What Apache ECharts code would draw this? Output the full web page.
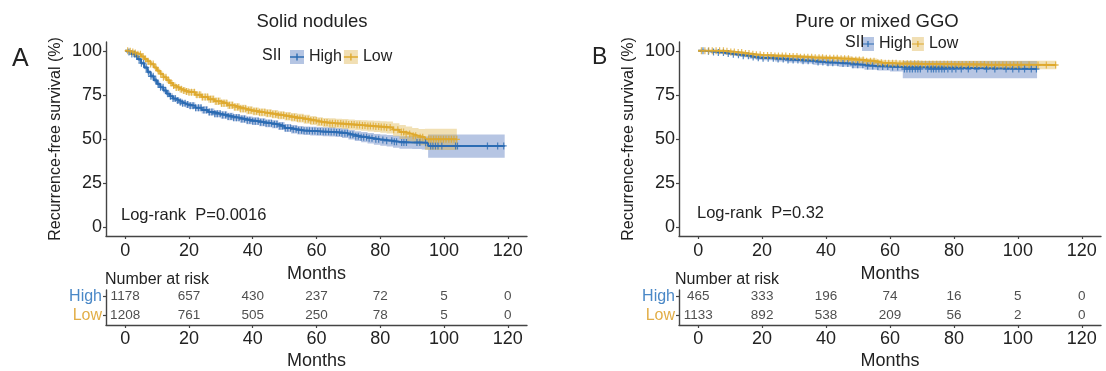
<!DOCTYPE html>
<html><head><meta charset="utf-8">
<script src="https://cdn.jsdelivr.net/npm/echarts@6/dist/echarts.min.js"></script>
<style>html,body{margin:0;padding:0;background:#fff}#c{width:1106px;height:371px}</style>
</head><body><div id="c"></div>
<script>
// ---------- DATA ----------
const xTicks = [0, 20, 40, 60, 80, 100, 120];
const yTicks = [0, 25, 50, 75, 100];
const groups = ['High', 'Low'];
const riskTimes = [0, 20, 40, 60, 80, 100, 120];

// Panel A: Solid nodules
const A_high_t = [0,1,2,3,4,5,6,7,8,9,10,11,12,13,14,15,16,17,18,19,20,22,24,26,28,30,32,34,36,38,40,42,44,46,48,50,52,54,56,58,60,62,64,66,68,70,72,74,76,78,80,82,84,86,90,93,95,119];
const A_high_s = [100,99.4,98.2,96.9,95.2,93,90.5,88,85.6,83.3,81.2,79.3,77.5,75.7,74.2,72.9,71.9,71,70.2,69.5,68.9,67.7,66.5,65.3,64.3,63.6,62.8,62.1,61.3,60.6,60.1,59.5,58.9,58.4,57.4,56.2,55.5,55,54.7,54.5,54.3,54.1,54,53.7,53.2,52.4,51.6,51,50.4,49.8,49.4,49,48.5,48,48,47.9,46.1,46.1];
const A_high_lo = [100,99.0,97.6,96.2,94.4,92.1,89.5,86.9,84.4,82.0,79.8,77.8,75.9,74.1,72.5,71.2,70.1,69.2,68.4,67.6,67.0,65.8,64.5,63.3,62.3,61.5,60.7,60.0,59.2,58.4,57.9,57.3,56.7,56.1,55.1,53.9,53.1,52.6,52.3,52.0,51.8,51.6,51.4,51.1,50.5,49.7,48.8,48.1,47.4,46.7,46.2,45.7,45.1,44.5,44.3,44.1,39.4,39.4];
const A_high_hi = [100,99.8,98.8,97.6,96.0,93.9,91.5,89.1,86.8,84.6,82.6,80.8,79.1,77.3,75.9,74.6,73.7,72.8,72.0,71.4,70.8,69.6,68.5,67.3,66.3,65.7,64.9,64.2,63.4,62.8,62.3,61.7,61.1,60.7,59.7,58.5,57.9,57.4,57.1,57.0,56.8,56.6,56.6,56.3,55.9,55.1,54.4,53.9,53.4,52.9,52.6,52.3,51.9,51.5,51.5,51.4,52.5,52.5];
const A_high_cens = [1.2,2.1,2.9,3.6,4.4,5.1,5.8,6.6,7.3,8.1,8.8,9.6,10.4,11.1,11.9,12.7,13.4,14.2,15,15.7,16.5,17.3,18,18.8,19.6,20.4,21.3,22.1,23,23.8,24.7,25.5,26.4,27.2,28.1,28.9,29.8,30.6,31.5,32.3,33.2,34,34.9,35.7,36.6,37.4,38.3,39.1,40,40.8,41.7,42.5,43.4,44.2,45.1,45.9,46.8,47.6,48.5,49.3,50.2,51,51.9,52.7,53.6,54.4,55.3,56.1,57,57.8,58.7,59.5,60.4,61.2,62.1,62.9,63.8,64.6,65.5,66.3,67.2,68,68.9,69.7,70.6,71.4,72.3,73.1,74,74.8,75.7,76.5,77.4,78.6,79.5,80.8,82,83.6,84.4,85.1,86.7,87.4,88.2,91.5,92.4,94.2,95.8,96.5,97.3,98.1,99.3,103.6,104.2,113.6,116.8,118.7];

const A_low_t = [0,1,2,3,4,5,6,7,8,9,10,11,12,13,14,15,16,17,18,19,20,22,24,26,28,30,32,34,36,38,40,42,44,46,48,50,52,54,56,58,60,62,64,66,68,70,72,74,76,78,80,82,84,86,88,90,92,94,104];
const A_low_s = [100,99.8,99.3,98.7,98.1,96.8,95.3,94.1,92.5,90.6,88.7,86.9,85,83.3,81.7,80.3,79.2,78.2,77.5,77,76.5,75.1,73.8,72.6,71.4,70.3,69.1,68.1,67.2,66.3,65.7,65.1,64.6,64.1,63.5,62.9,62.3,61.8,61.2,60.5,59.8,59.3,59,58.8,58.5,58.2,57.9,57.7,57.4,57.1,56.8,56.5,55.3,54,52.9,51.8,51,49.8,49.8];
const A_low_lo = [100,99.6,98.9,98.2,97.5,96.0,94.4,93.1,91.4,89.4,87.4,85.5,83.5,81.7,80.0,78.6,77.4,76.4,75.7,75.1,74.6,73.2,71.8,70.6,69.3,68.2,67.0,66.0,65.0,64.1,63.5,62.9,62.3,61.8,61.2,60.5,59.9,59.3,58.7,58.0,57.2,56.7,56.3,56.1,55.7,55.3,55.0,54.7,54.3,53.9,53.5,53.1,51.6,50.0,48.7,47.4,46.4,43.7,43.7];
const A_low_hi = [100,100,99.7,99.2,98.7,97.6,96.2,95.1,93.6,91.8,90.0,88.3,86.5,84.9,83.4,82.0,81.0,80.0,79.3,78.9,78.4,77.0,75.8,74.6,73.5,72.4,71.2,70.2,69.4,68.5,67.9,67.3,66.9,66.4,65.8,65.3,64.7,64.3,63.7,63.0,62.4,61.9,61.7,61.5,61.3,61.1,60.8,60.7,60.5,60.3,60.1,59.9,59.0,58.0,57.1,56.2,55.6,55.8,55.8];
const A_low_cens = [0.8,1.6,2.4,3.2,4,4.8,5.6,6.4,7.2,8,8.8,9.6,10.4,11.2,12,12.8,13.6,14.4,15.2,16,16.8,17.6,18.4,19.2,20,20.8,21.7,22.5,23.4,24.2,25.1,25.9,26.8,27.6,28.5,29.3,30.2,31,31.9,32.7,33.6,34.4,35.3,36.1,37,37.8,38.7,39.5,40.4,41.2,42.1,42.9,43.8,44.6,45.5,46.3,47.2,48,48.9,49.7,50.6,51.4,52.3,53.1,54,54.8,55.7,56.5,57.4,58.2,59.1,59.9,60.8,61.6,62.5,63.3,64.2,65,65.9,66.7,67.6,68.4,69.3,70.1,71,71.8,72.7,73.5,74.4,75.2,76.1,76.9,77.8,78.6,79.5,80.3,81.2,82,83.1,84.2,85.5,86.6,87.3,88.1,89.2,90.3,91.1,92.5,93.3,95.2,95.9,96.7,97.5,98.3,99,99.8,100.6,101.5,102.3,103.1,104];

// Panel B: Pure or mixed GGO
const B_high_t = [0,2,4,6,8,10,12,14,16,18,20,24,28,32,36,40,44,48,52,56,60,64,106];
const B_high_s = [100,99.8,99.4,99,98.5,98.1,97.7,97.2,96.5,96.1,95.8,95.3,94.8,94.3,93.7,93.2,92.8,92.1,91.4,91.1,90.8,89.7,89.7];
const B_high_lo = [100,99.5,99.0,98.5,97.9,97.4,96.9,96.3,95.5,95.0,94.6,94.0,93.4,92.8,92.1,91.5,91.0,90.1,89.2,88.8,88.3,84.5,84.5];
const B_high_hi = [100,100,99.8,99.5,99.1,98.8,98.5,98.1,97.5,97.2,97.0,96.6,96.2,95.8,95.3,94.9,94.6,94.1,93.6,93.4,93.3,94.2,94.2];
const B_high_cens = [1.5,3.2,4.8,6.3,7.9,9.4,11,12.6,14.1,15.7,17.2,18.8,20.3,21.9,23.5,25,26.6,28.1,29.7,31.2,32.8,34.4,35.9,37.5,39,40.6,42.1,43.7,45.3,46.8,48.4,49.9,51.5,53,54.6,56.2,57.7,59.3,60.8,62.4,64.5,65.3,66.2,67,67.9,68.7,69.5,71.8,72.9,73.6,74.4,75.3,76.2,77,78.1,79.4,80.6,82.3,84.5,87.1,90.2,92.8,96.3,98.4,100.3,102.1,104.2,105.8];

const B_low_t = [0,4,8,10,12,14,16,18,20,24,28,32,36,40,44,48,52,56,58,62,70,80,90,112];
const B_low_s = [100,100,99.8,99.4,99,98.5,98.1,97.7,97.4,97.1,96.8,96.4,96.1,95.8,95.5,94.8,94.1,93.3,92.9,92.6,92.4,92.2,92,92];
const B_low_lo = [100,99.8,99.5,99.0,98.5,97.9,97.4,97.0,96.6,96.2,95.8,95.3,94.9,94.5,94.1,93.3,92.5,91.6,91.1,90.7,90.4,90.0,89.6,88.2];
const B_low_hi = [100,100,100,99.8,99.5,99.1,98.8,98.4,98.2,98.0,97.8,97.5,97.3,97.1,96.9,96.3,95.7,95.0,94.7,94.5,94.4,94.4,94.4,94.2];
const B_low_cens = [1,2.1,3.3,4.4,5.6,6.7,7.9,9,10.2,11.3,12.5,13.6,14.8,15.9,17.1,18.2,19.4,20.5,21.7,22.8,24,25.1,26.3,27.4,28.6,29.7,30.9,32,33.2,34.3,35.5,36.6,37.8,38.9,40.1,41.2,42.4,43.5,44.7,45.8,47,48.1,49.3,50.4,51.6,52.7,53.9,55,56.2,57.3,58.5,59.6,60.8,61.9,63.1,64.2,65.4,66.5,67.7,68.8,70,71.1,72.3,73.4,74.6,75.7,76.9,78,79.2,80.3,81.5,82.6,83.8,84.9,86.1,87.2,88.4,89.5,90.7,91.8,93,94.1,95.3,96.4,97.6,98.7,99.9,101,103.5,106.3,108.9,111.8];

// Number at risk
const A_risk_high = [1178, 657, 430, 237, 72, 5, 0];
const A_risk_low  = [1208, 761, 505, 250, 78, 5, 0];
const B_risk_high = [465, 333, 196, 74, 16, 5, 0];
const B_risk_low  = [1133, 892, 538, 209, 56, 2, 0];

// ---------- STYLE ----------
const FONT = '"Liberation Sans", Arial, Helvetica, sans-serif';
const TXT = '#222';
const AX = '#444';
const lineCol = {High: '#2C6CB3', Low: '#DEA92E'};
const bandCol = {High: 'rgba(45,90,175,0.35)', Low: 'rgba(215,165,40,0.35)'};
const keyCol = {High: '#B5C5E3', Low: '#F1DFB4'};
const rowCol = {High: '#4A88C7', Low: '#E2AE48'};
const PLUS = 'path://M4,0H6V4H10V6H6V10H4V6H0V4H4Z';
const KEYPLUS = 'path://M0,0h0.05v0.05h-0.05z M13.95,13.95h0.05v0.05h-0.05z M0,6.3H14V7.7H0z M6.3,3.5H7.7V10.5H6.3z';

function stepAt(ts, ss, t) { let v = ss[0]; for (let i = 0; i < ts.length; i++) { if (ts[i] <= t) v = ss[i]; else break; } return v; }

const panels = [
  {left: 106, width: 421, high: [A_high_t, A_high_s, A_high_lo, A_high_hi, A_high_cens], low: [A_low_t, A_low_s, A_low_lo, A_low_hi, A_low_cens], risk: [A_risk_high, A_risk_low]},
  {left: 679, width: 422, high: [B_high_t, B_high_s, B_high_lo, B_high_hi, B_high_cens], low: [B_low_t, B_low_s, B_low_lo, B_low_hi, B_low_cens], risk: [B_risk_high, B_risk_low]}
];

// step-shaped confidence band drawn as one polygon through the axis scales
function bandRenderer(t, lo, hi, color) {
  return function (params, api) {
    const upper = [], lower = [];
    for (let i = 0; i < t.length; i++) {
      const tNext = i < t.length - 1 ? t[i + 1] : t[i];
      upper.push(api.coord([t[i], hi[i]]), api.coord([tNext, hi[i]]));
      lower.push(api.coord([t[i], lo[i]]), api.coord([tNext, lo[i]]));
    }
    const pts = upper.concat(lower.reverse());
    return {type: 'polygon', shape: {points: pts}, style: {fill: color, stroke: null}, silent: true};
  };
}

const grid = [], xAxis = [], yAxis = [], series = [];
const axLine = {show: true, onZero: false, lineStyle: {color: AX, width: 1.4}};
const axTickCfg = (vals) => ({show: true, length: 3, lineStyle: {color: AX, width: 1.2}, customValues: vals});

panels.forEach((p, pi) => {
  const gMain = grid.length;
  grid.push({left: p.left, width: p.width, top: 42, height: 194, containLabel: false});
  grid.push({left: p.left, width: p.width, top: 290, height: 37, containLabel: false});
  xAxis.push({type: 'value', gridIndex: gMain, min: -6, max: 126, axisLine: axLine, axisTick: axTickCfg(xTicks),
    axisLabel: {customValues: xTicks, fontSize: 18, color: TXT, fontFamily: FONT, margin: 6},
    splitLine: {show: false}, name: 'Months', nameLocation: 'middle', nameGap: 25,
    nameTextStyle: {fontSize: 18, color: TXT, fontFamily: FONT}});
  yAxis.push({type: 'value', gridIndex: gMain, min: -5, max: 105, axisLine: axLine, axisTick: axTickCfg(yTicks),
    axisLabel: {customValues: yTicks, fontSize: 18, color: TXT, fontFamily: FONT, margin: 4},
    splitLine: {show: false}, name: 'Recurrence-free survival (%)', nameLocation: 'middle', nameGap: 42,
    nameTextStyle: {fontSize: 16, color: TXT, fontFamily: FONT}});
  xAxis.push({type: 'value', gridIndex: gMain + 1, min: -6, max: 126, axisLine: axLine, axisTick: axTickCfg(xTicks),
    axisLabel: {customValues: xTicks, fontSize: 18, color: TXT, fontFamily: FONT, margin: 5},
    splitLine: {show: false}, name: 'Months', nameLocation: 'middle', nameGap: 27,
    nameTextStyle: {fontSize: 18, color: TXT, fontFamily: FONT}});
  yAxis.push({type: 'value', gridIndex: gMain + 1, inverse: true, min: 0.65, max: 2.5, axisLine: axLine, axisTick: axTickCfg([1, 2]),
    axisLabel: {customValues: [1, 2], fontSize: 16, fontFamily: FONT, margin: 4,
      formatter: v => groups[Math.round(v) - 1],
      color: v => rowCol[groups[Math.round(Number(v)) - 1]]},
    splitLine: {show: false}});

  const xi = gMain, yi = gMain;
  [['High', p.high], ['Low', p.low]].forEach(([g, d]) => {
    const [t, s, lo, hi] = d;
    series.push({type: 'custom', name: 'band' + pi + g, xAxisIndex: xi, yAxisIndex: yi,
      data: [[t[0], s[0]]], renderItem: bandRenderer(t, lo, hi, bandCol[g]), silent: true, z: 1, animation: false, clip: true});
  });
  [['High', p.high], ['Low', p.low]].forEach(([g, d]) => {
    const [t, s, lo, hi, cens] = d;
    series.push({type: 'line', name: g, xAxisIndex: xi, yAxisIndex: yi, step: 'end',
      data: t.map((v, i) => [v, s[i]]), symbol: 'none', showSymbol: false,
      lineStyle: {color: lineCol[g], width: 2}, itemStyle: {color: lineCol[g]}, z: 3, animation: false});
    series.push({type: 'scatter', name: 'c' + pi + g, xAxisIndex: xi, yAxisIndex: yi,
      data: cens.map(c => [c, stepAt(t, s, c)]), symbol: PLUS, symbolSize: [6, 7],
      itemStyle: {color: lineCol[g]}, z: 4, silent: true, animation: false});
  });
  p.risk.forEach((arr, ri) => {
    series.push({type: 'scatter', name: 'risk' + pi + ri, xAxisIndex: gMain + 1, yAxisIndex: gMain + 1,
      data: riskTimes.map((t, i) => [t, ri + 1, arr[i]]), symbolSize: 1, itemStyle: {color: 'rgba(0,0,0,0)'},
      label: {show: true, position: 'inside', formatter: q => q.data[2], fontSize: 13.5, color: TXT, fontFamily: FONT},
      silent: true, animation: false});
  });
});

const tStyle = (size) => ({fontSize: size, color: TXT, fontFamily: FONT, fontWeight: 'normal'});
const mk = (text, left, top, size, align) => ({text, left, top, textAlign: align || 'left', textVerticalAlign: 'middle', padding: 0, textStyle: tStyle(size)});
const title = [
  mk('Solid nodules', 312, 22, 18.5, 'center'),
  mk('Pure or mixed GGO', 877, 22, 18.5, 'center'),
  mk('A', 12, 59, 25),
  mk('B', 592, 58, 23),
  mk('SII', 262, 56, 16),
  mk('SII', 845, 43, 16),
  mk('Log-rank  P=0.0016', 121, 215, 16.5),
  mk('Log-rank  P=0.32', 697, 213, 16.5),
  mk('Number at risk', 105, 280, 16),
  mk('Number at risk', 675, 280, 16)
];

function legendPair(left, top, iw, gap) {
  const base = {left: left, top: top, padding: 0, itemWidth: iw, itemHeight: 14, itemGap: gap, selectedMode: false, orient: 'horizontal'};
  return [
    Object.assign({}, base, {icon: 'rect', textStyle: {fontSize: 16, color: TXT, fontFamily: FONT},
      data: groups.map(g => ({name: g, itemStyle: {color: keyCol[g], borderWidth: 0}}))}),
    Object.assign({}, base, {icon: KEYPLUS, textStyle: {fontSize: 16, color: 'rgba(0,0,0,0)', fontFamily: FONT},
      data: groups.map(g => ({name: g, itemStyle: {color: lineCol[g], borderWidth: 0}}))})
  ];
}
const legend = [].concat(legendPair(290, 49, 14, 2), legendPair(862, 36, 12, 0));

const chart = echarts.init(document.getElementById('c'), null, {renderer: 'canvas'});
chart.setOption({backgroundColor: '#fff', animation: false, title, legend, grid, xAxis, yAxis, series, tooltip: {show: false}});
</script>
</body></html>
